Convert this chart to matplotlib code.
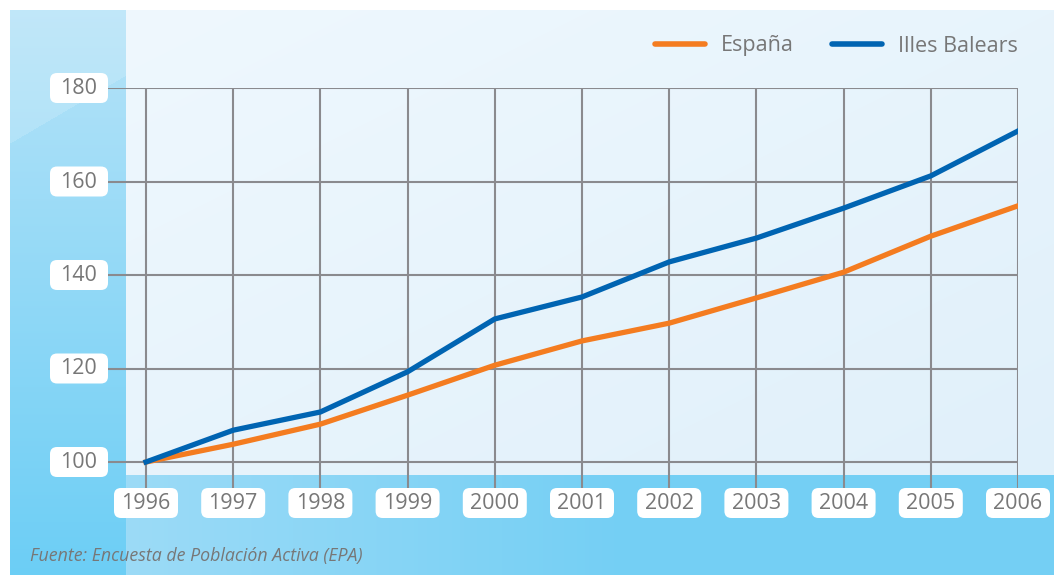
import numpy as np
import matplotlib
matplotlib.use("Agg")
import matplotlib.pyplot as plt
from matplotlib.patches import FancyBboxPatch
from matplotlib.transforms import ScaledTranslation
from matplotlib.lines import Line2D

# ---------------- data ----------------
years = [1996, 1997, 1998, 1999, 2000, 2001, 2002, 2003, 2004, 2005, 2006]
espana = [100, 103.8, 108.1, 114.3, 120.7, 125.9, 129.7, 135.1, 140.6, 148.3, 154.8]
baleares = [100, 106.8, 110.7, 119.3, 130.6, 135.3, 142.8, 147.9, 154.3, 161.2, 170.8]
y_ticks = [100, 120, 140, 160, 180]
series_names = ["España", "Illes Balears"]
source_text = "Fuente: Encuesta de Población Activa (EPA)"

# ---------------- style ----------------
ORANGE = "#F47C20"
BLUE = "#0064B2"
GRID = "#8a8a8e"
TEXT = "#777777"
FONT = ["Open Sans", "DejaVu Sans"]
plt.rcParams["font.family"] = FONT

W, H = 1054, 575
fig = plt.figure(figsize=(W / 100, H / 100), dpi=100)


def rgb(h):
    h = h.lstrip("#")
    return np.array([int(h[i:i + 2], 16) / 255 for i in (0, 2, 4)])


def lerp(a, b, t):
    return a[None, None, :] * (1 - t[..., None]) + b[None, None, :] * t[..., None]


# ---------------- background ----------------
yy, xx = np.mgrid[0:H, 0:W].astype(float)
img = np.ones((H, W, 3))

panel = (xx >= 126) & (yy >= 10) & (yy < 475)
t = np.clip((xx - 126) / (W - 126) * 0.5 + (yy - 10) / 465 * 0.5, 0, 1)
pc = lerp(rgb("#eff8fe"), rgb("#e0f0fa"), t)
img[panel] = pc[panel]

left = (xx >= 10) & (xx < 126) & (yy >= 10)
t = np.clip((yy - 10) / 565, 0, 1)
lc = lerp(rgb("#b6e3f8"), rgb("#6ccef5"), t)
hl = yy < 143 - (xx - 10) * (68 / 116)
lc[hl] = lc[hl] * 0.85 + 0.15
img[left] = lc[left]

bottom = (xx >= 126) & (yy >= 475)
t = np.clip((xx - 126) / 500, 0, 1)
bc = lerp(rgb("#9cdbf7"), rgb("#74cff4"), t)
img[bottom] = bc[bottom]

bg = fig.add_axes([0, 0, 1, 1], zorder=-10)
bg.imshow(img, extent=(0, W, H, 0), aspect="auto", interpolation="bilinear")
bg.set_xlim(0, W)
bg.set_ylim(H, 0)
bg.axis("off")

# ---------------- main axes ----------------
px_per_year = 87.2
px_per_unit = 374 / 80
x_left = years[0] - 38 / px_per_year
y_bottom = y_ticks[0] - 26 / px_per_unit

ax = fig.add_axes([108 / W, (H - 488) / H, 910 / W, 400 / H])
ax.patch.set_alpha(0)
ax.set_xlim(x_left, years[-1])
ax.set_ylim(y_bottom, y_ticks[-1])
for s in ax.spines.values():
    s.set_visible(False)
ax.set_xticks([])
ax.set_yticks([])

for yv in y_ticks:
    ax.axhline(yv, color=GRID, lw=1.5, zorder=1)
for yr in years:
    ax.axvline(yr, color=GRID, lw=1.5, zorder=1)

ax.plot(years, espana, color=ORANGE, lw=3.8, zorder=3, solid_joinstyle="round")
ax.plot(years, baleares, color=BLUE, lw=3.8, zorder=4, solid_joinstyle="round")

# tick label boxes (sizes in inches, anchored at data points)
for yr in years:
    tr = fig.dpi_scale_trans + ScaledTranslation(yr, y_bottom, ax.transData)
    ax.add_patch(FancyBboxPatch((-0.32, -0.30), 0.64, 0.30,
                                boxstyle="round,pad=0,rounding_size=0.07",
                                fc="white", ec="none", transform=tr,
                                clip_on=False, zorder=5))
    ax.text(0, -0.155, str(yr), transform=tr, ha="center", va="center",
            fontsize=15.5, color=TEXT, clip_on=False, zorder=6)

for yv in y_ticks:
    tr = fig.dpi_scale_trans + ScaledTranslation(x_left, yv, ax.transData)
    ax.add_patch(FancyBboxPatch((-0.58, -0.15), 0.58, 0.30,
                                boxstyle="round,pad=0,rounding_size=0.07",
                                fc="white", ec="none", transform=tr,
                                clip_on=False, zorder=5))
    ax.text(-0.11, -0.005, str(yv), transform=tr, ha="right", va="center",
            fontsize=15.5, color=TEXT, clip_on=False, zorder=6)

# legend
handles = [Line2D([], [], color=ORANGE, lw=4, solid_capstyle="round"),
           Line2D([], [], color=BLUE, lw=4, solid_capstyle="round")]
leg = fig.legend(handles, series_names, loc="center right",
                 bbox_to_anchor=(1018 / W, 1 - 46 / H), ncol=2, frameon=False,
                 fontsize=15.5, handlelength=2.3, handletextpad=0.75,
                 columnspacing=1.8, borderaxespad=0, borderpad=0)
for txt in leg.get_texts():
    txt.set_color(TEXT)

fig.text(30 / W, 1 - 556 / H, source_text, ha="left", va="center",
         fontsize=12.8, color=TEXT, style="italic")

fig.savefig("out.png", dpi=100)
